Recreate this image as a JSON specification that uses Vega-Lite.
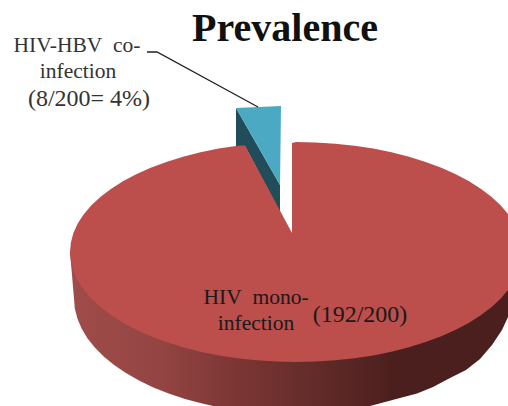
{"$schema":"https://vega.github.io/schema/vega-lite/v6.json","width":508,"height":406,"padding":0,"autosize":"none","background":"white","view":{"stroke":null},
"title":{"text":"Prevalence","font":"Liberation Serif","fontSize":40,"fontWeight":"bold","color":"#111111","anchor":"middle","baseline":"middle","dx":31,"dy":69,"offset":0},
"projection":{"type":"identity","reflectY":true,"scale":1,"translate":[292,252]},
"layer":[
{"data":{"values":[{"type":"Feature","properties":{"slice":"HIV mono-infection","part":"side","value":192},"geometry":{"type":"Polygon","coordinates":[[[-222,0],[-218,-46.5],[-217.2,-56.6],[-214.6,-66.6],[-210.4,-76.5],[-204.6,-86.2],[-197.2,-95.5],[-188.3,-104.5],[-177.9,-113],[-166.1,-121.1],[-153,-128.5],[-138.7,-135.4],[-123.3,-141.5],[-107,-147],[-89.8,-151.6],[-71.9,-155.5],[-53.5,-158.5],[-34.5,-160.7],[-15.4,-162],[4,-162.5],[23,-162],[42,-160.7],[61,-158],[80,-153.5],[108,-146],[125,-141.5],[141,-135],[158,-126],[174,-118],[188,-107],[200,-93],[210,-78],[216,-65],[222,-48],[228,-20],[230,0],[-222,0]]]}}]},
"mark":{"type":"geoshape","stroke":null,"fill":{"gradient":"linear","x1":0,"y1":0,"x2":1,"y2":0,"stops":[{"offset":0,"color":"#A04C4A"},{"offset":0.2,"color":"#934543"},{"offset":0.38,"color":"#7A3533"},{"offset":0.52,"color":"#652D2B"},{"offset":0.72,"color":"#4B1F1D"},{"offset":1,"color":"#4B1F1D"}]}}},
{"data":{"values":[{"type":"Feature","properties":{"slice":"HIV-HBV co-infection","part":"side","value":8},"geometry":{"type":"Polygon","coordinates":[[[-56,144],[-12,67],[-12,40],[-47,106],[-56,104],[-56,144]]]}}]},
"mark":{"type":"geoshape","fill":"#214C59","stroke":null}},
{"data":{"values":[{"type":"Feature","properties":{"slice":"HIV-HBV co-infection","part":"top","value":8},"geometry":{"type":"Polygon","coordinates":[[[-56,144],[-11,146],[-12,67],[-56,144]]]}}]},
"mark":{"type":"geoshape","fill":"#4BA9C4","stroke":null}},
{"data":{"values":[{"type":"Feature","properties":{"slice":"HIV mono-infection","part":"top","value":192},"geometry":{"type":"Polygon","coordinates":[[[0,109],[4,110],[23.7,109.6],[43.2,108.3],[62.5,106.2],[81.3,103.4],[99.5,99.7],[117,95.3],[133.6,90.1],[149.3,84.3],[163.8,77.8],[177.1,70.7],[189.1,63.1],[199.7,55],[208.8,46.5],[216.4,37.6],[222.3,28.5],[226.6,19.1],[229.1,9.6],[230,0],[229.1,-9.6],[226.6,-19.1],[222.3,-28.5],[216.4,-37.6],[208.8,-46.5],[199.7,-55],[189.1,-63.1],[177.1,-70.7],[163.8,-77.8],[149.3,-84.3],[133.6,-90.1],[117,-95.3],[99.5,-99.7],[81.3,-103.4],[62.5,-106.2],[43.2,-108.3],[23.7,-109.6],[4,-110],[-15.7,-109.6],[-35.2,-108.3],[-54.5,-106.2],[-73.3,-103.4],[-91.5,-99.7],[-109,-95.3],[-125.6,-90.1],[-141.3,-84.3],[-155.8,-77.8],[-169.1,-70.7],[-181.1,-63.1],[-191.7,-55],[-200.8,-46.5],[-208.4,-37.6],[-214.3,-28.5],[-218.6,-19.1],[-221.1,-9.6],[-222,0],[-221.1,9.6],[-218.6,19.1],[-214.3,28.5],[-208.4,37.6],[-200.8,46.5],[-191.7,55],[-181.1,63.1],[-169.1,70.7],[-155.8,77.8],[-141.3,84.3],[-125.6,90.1],[-109,95.3],[-91.5,99.7],[-73.3,103.4],[-54.5,106.2],[-47,106.6],[0,19],[0,109]]]}}]},
"mark":{"type":"geoshape","fill":"#BC4E4C","stroke":null}},
{"data":{"values":[{"type":"Feature","properties":{"slice":"HIV-HBV co-infection","part":"leader"},"geometry":{"type":"LineString","coordinates":[[-145,200],[-135,200],[-34,145]]}}]},
"mark":{"type":"geoshape","filled":false,"stroke":"#222222","strokeWidth":1.3}},
{"data":{"values":[
{"label":"HIV-HBV\u00a0\u00a0co-","lon":-215,"lat":206,"tone":"upper"},
{"label":"infection","lon":-214,"lat":180,"tone":"upper"},
{"label":"HIV\u00a0\u00a0mono-","lon":-36,"lat":-46,"tone":"lower"},
{"label":"infection","lon":-36,"lat":-72,"tone":"lower"}]},
"mark":{"type":"text","font":"Liberation Serif","fontSize":21.5,"align":"center","baseline":"middle"},
"encoding":{"longitude":{"field":"lon","type":"quantitative"},"latitude":{"field":"lat","type":"quantitative"},"text":{"field":"label"},"color":{"field":"tone","type":"nominal","legend":null,"scale":{"domain":["upper","lower"],"range":["#333333","#1A1A1A"]}}}},
{"data":{"values":[
{"label":"(8/200=\u00a04%)","lon":-203,"lat":153,"tone":"upper"},
{"label":"(192/200)","lon":68,"lat":-63,"tone":"lower"}]},
"mark":{"type":"text","font":"Liberation Serif","fontSize":24,"align":"center","baseline":"middle"},
"encoding":{"longitude":{"field":"lon","type":"quantitative"},"latitude":{"field":"lat","type":"quantitative"},"text":{"field":"label"},"color":{"field":"tone","type":"nominal","legend":null,"scale":{"domain":["upper","lower"],"range":["#333333","#1A1A1A"]}}}}
]}
